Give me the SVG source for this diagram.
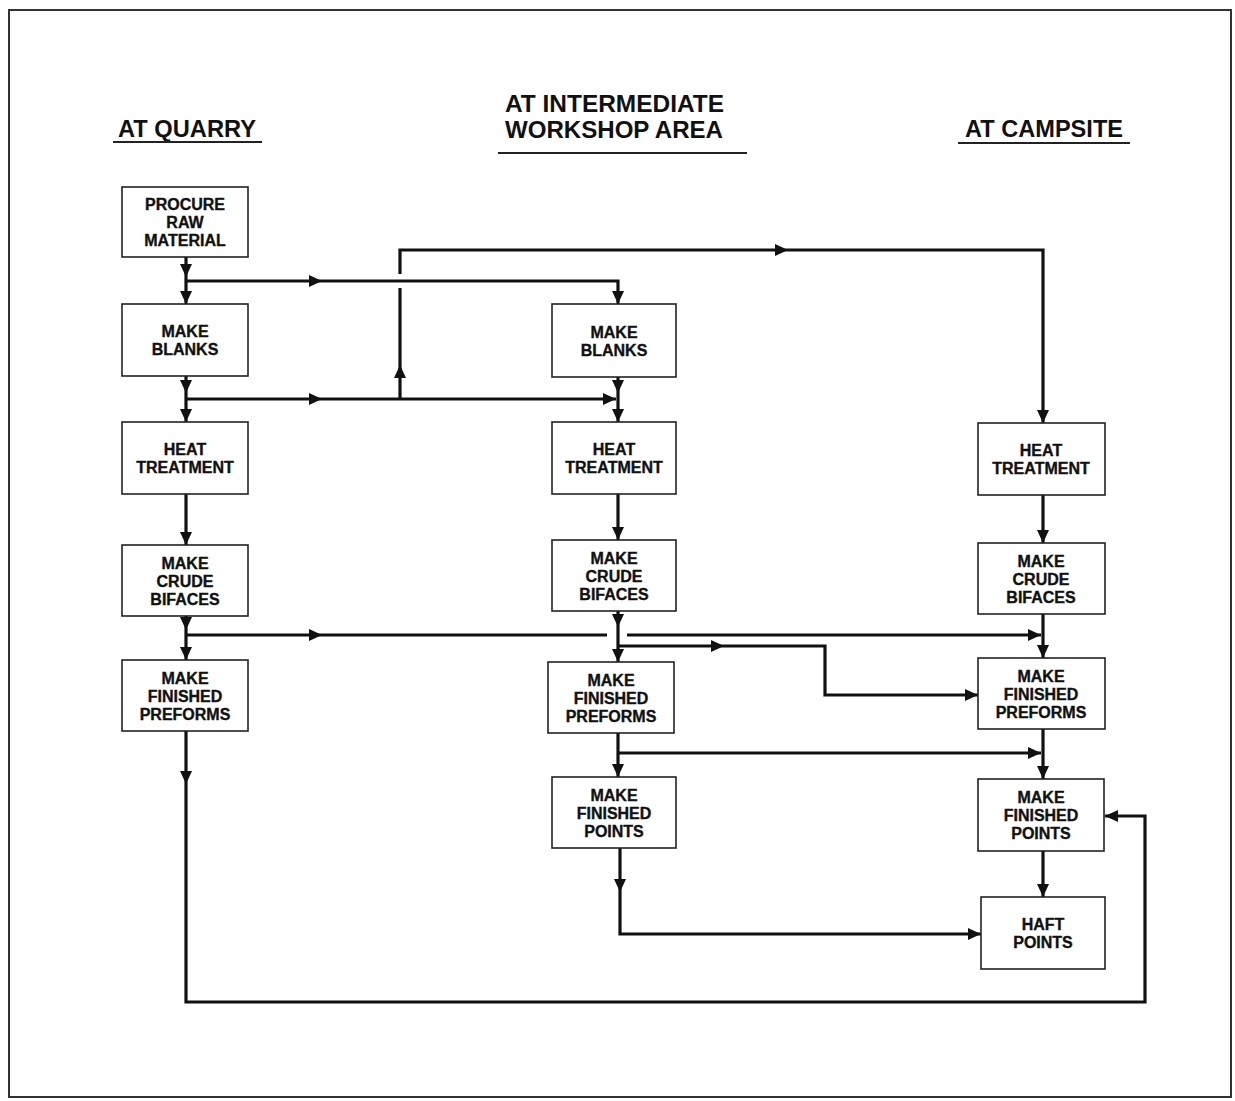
<svg xmlns="http://www.w3.org/2000/svg" width="1235" height="1101" viewBox="0 0 1235 1101">
<style>
.bx{fill:#fff;stroke:#222;stroke-width:1.6}
.nt{font-family:"Liberation Sans",Arial,sans-serif;font-weight:bold;font-size:16px;fill:#111;stroke:#111;stroke-width:0.35;text-anchor:middle}
.hd{font-family:"Liberation Sans",Arial,sans-serif;font-weight:bold;font-size:23px;fill:#111}
.ul{stroke:#222;stroke-width:2}
.c{fill:none;stroke:#111;stroke-width:3.2}
.a{marker-end:url(#ah)}
</style>
<defs>
<marker id="ah" markerUnits="userSpaceOnUse" markerWidth="13" markerHeight="12" refX="13" refY="6" orient="auto">
<path d="M0,0 L13,6 L0,12 z" fill="#111"/>
</marker>
</defs>
<rect x="0" y="0" width="1235" height="1101" fill="#fff"/>
<rect x="9" y="10" width="1222" height="1087" fill="none" stroke="#333" stroke-width="2"/>

<g id="headers">
<text class="hd" x="118" y="137" textLength="138" lengthAdjust="spacingAndGlyphs">AT QUARRY</text>
<line class="ul" x1="113" y1="142" x2="262" y2="142"/>
<text class="hd" x="505" y="112" textLength="219" lengthAdjust="spacingAndGlyphs">AT INTERMEDIATE</text>
<text class="hd" x="505" y="138" textLength="218" lengthAdjust="spacingAndGlyphs">WORKSHOP AREA</text>
<line class="ul" x1="498" y1="153" x2="747" y2="153"/>
<text class="hd" x="965" y="137" textLength="158" lengthAdjust="spacingAndGlyphs">AT CAMPSITE</text>
<line class="ul" x1="958" y1="143" x2="1130" y2="143"/>
</g>

<g id="connectors">
<path class="c a" d="M186,257 V277"/>
<path class="c a" d="M186,277 V304"/>
<path class="c a" d="M186,281 H322"/>
<path class="c a" d="M322,281 H618 V304"/>
<path class="c a" d="M186,376 V393"/>
<path class="c a" d="M186,393 V422"/>
<path class="c a" d="M186,399 H322"/>
<path class="c a" d="M322,399 H616"/>
<path class="c a" d="M400,399 V365"/>
<path class="c" d="M400,365 V288"/>
<path class="c a" d="M400,274 V250 H788"/>
<path class="c a" d="M788,250 H1043 V423"/>
<path class="c a" d="M618,377 V393"/>
<path class="c a" d="M618,393 V422"/>
<path class="c a" d="M186,494 V545"/>
<path class="c a" d="M618,494 V540"/>
<path class="c a" d="M186,616 V630"/>
<path class="c a" d="M186,630 V660"/>
<path class="c a" d="M186,635 H322"/>
<path class="c" d="M322,635 H607"/>
<path class="c a" d="M627,635 H1041"/>
<path class="c a" d="M618,611 V627"/>
<path class="c a" d="M618,627 V662"/>
<path class="c a" d="M618,646 H724"/>
<path class="c a" d="M724,646 H825 V695 H978"/>
<path class="c a" d="M1043,495 V543"/>
<path class="c a" d="M1043,614 V658"/>
<path class="c a" d="M618,733 V777"/>
<path class="c a" d="M618,753 H1041"/>
<path class="c a" d="M1043,729 V779"/>
<path class="c a" d="M1043,851 V897"/>
<path class="c a" d="M620,848 V892"/>
<path class="c a" d="M620,892 V934 H981"/>
<path class="c a" d="M186,731 V784"/>
<path class="c a" d="M186,784 V1002 H1145 V816 H1105"/>
</g>

<g id="q-procure"><rect class="bx" x="122" y="187" width="126" height="70"/>
<text class="nt" x="185" y="210">PROCURE</text><text class="nt" x="185" y="228">RAW</text><text class="nt" x="185" y="246">MATERIAL</text></g>
<g id="q-blanks"><rect class="bx" x="122" y="304" width="126" height="72"/>
<text class="nt" x="185" y="337">MAKE</text><text class="nt" x="185" y="355">BLANKS</text></g>
<g id="q-heat"><rect class="bx" x="122" y="422" width="126" height="72"/>
<text class="nt" x="185" y="455">HEAT</text><text class="nt" x="185" y="473">TREATMENT</text></g>
<g id="q-crude"><rect class="bx" x="122" y="545" width="126" height="71"/>
<text class="nt" x="185" y="568.5">MAKE</text><text class="nt" x="185" y="586.5">CRUDE</text><text class="nt" x="185" y="604.5">BIFACES</text></g>
<g id="q-preforms"><rect class="bx" x="122" y="660" width="126" height="71"/>
<text class="nt" x="185" y="683.5">MAKE</text><text class="nt" x="185" y="701.5">FINISHED</text><text class="nt" x="185" y="719.5">PREFORMS</text></g>

<g id="w-blanks"><rect class="bx" x="552" y="304" width="124" height="73"/>
<text class="nt" x="614" y="337.5">MAKE</text><text class="nt" x="614" y="355.5">BLANKS</text></g>
<g id="w-heat"><rect class="bx" x="552" y="422" width="124" height="72"/>
<text class="nt" x="614" y="455">HEAT</text><text class="nt" x="614" y="473">TREATMENT</text></g>
<g id="w-crude"><rect class="bx" x="552" y="540" width="124" height="71"/>
<text class="nt" x="614" y="563.5">MAKE</text><text class="nt" x="614" y="581.5">CRUDE</text><text class="nt" x="614" y="599.5">BIFACES</text></g>
<g id="w-preforms"><rect class="bx" x="548" y="662" width="126" height="71"/>
<text class="nt" x="611" y="685.5">MAKE</text><text class="nt" x="611" y="703.5">FINISHED</text><text class="nt" x="611" y="721.5">PREFORMS</text></g>
<g id="w-points"><rect class="bx" x="552" y="777" width="124" height="71"/>
<text class="nt" x="614" y="800.5">MAKE</text><text class="nt" x="614" y="818.5">FINISHED</text><text class="nt" x="614" y="836.5">POINTS</text></g>

<g id="c-heat"><rect class="bx" x="978" y="423" width="127" height="72"/>
<text class="nt" x="1041" y="456">HEAT</text><text class="nt" x="1041" y="474">TREATMENT</text></g>
<g id="c-crude"><rect class="bx" x="978" y="543" width="127" height="71"/>
<text class="nt" x="1041" y="566.5">MAKE</text><text class="nt" x="1041" y="584.5">CRUDE</text><text class="nt" x="1041" y="602.5">BIFACES</text></g>
<g id="c-preforms"><rect class="bx" x="978" y="658" width="127" height="71"/>
<text class="nt" x="1041" y="681.5">MAKE</text><text class="nt" x="1041" y="699.5">FINISHED</text><text class="nt" x="1041" y="717.5">PREFORMS</text></g>
<g id="c-points"><rect class="bx" x="978" y="779" width="126" height="72"/>
<text class="nt" x="1041" y="803">MAKE</text><text class="nt" x="1041" y="821">FINISHED</text><text class="nt" x="1041" y="839">POINTS</text></g>
<g id="c-haft"><rect class="bx" x="981" y="897" width="124" height="72"/>
<text class="nt" x="1043" y="930">HAFT</text><text class="nt" x="1043" y="948">POINTS</text></g>
</svg>
